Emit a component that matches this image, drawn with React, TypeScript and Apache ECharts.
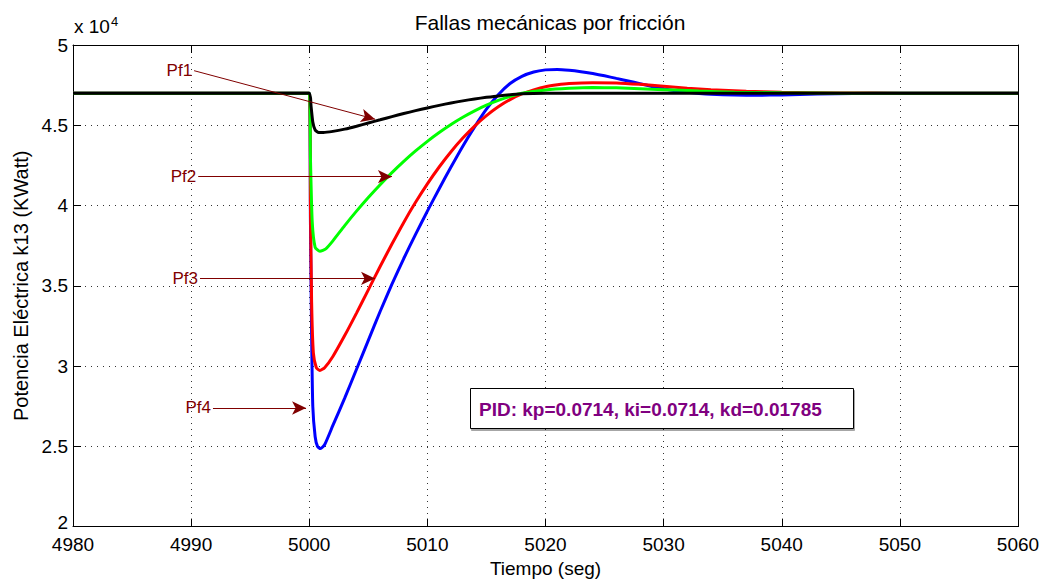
import React, { useEffect, useRef } from "react";
import * as echarts from "echarts";

// Time (s) and power (x 10^4 KWatt) for each fault case
const blueT = [4980, 5000, 5000.1, 5000.2, 5000.3, 5000.5, 5000.7, 5000.95, 5001.3,
  5002, 5003, 5004, 5005, 5006, 5007, 5008, 5009, 5010, 5011, 5012, 5013, 5014, 5015, 5016, 5017, 5018,
  5019, 5020, 5021, 5022, 5023, 5024, 5025, 5026, 5027, 5028, 5029, 5030, 5031, 5032, 5033, 5034,
  5036, 5038, 5040, 5043, 5046, 5050, 5060];
const blueV = [4.7, 4.7, 3.9, 3.2, 2.75, 2.56, 2.5, 2.486, 2.51,
  2.63, 2.8, 2.98, 3.16, 3.34, 3.51, 3.67, 3.82, 3.965, 4.105, 4.24, 4.37, 4.49, 4.6, 4.69, 4.76, 4.805,
  4.832, 4.845, 4.848, 4.843, 4.834, 4.822, 4.808, 4.792, 4.776, 4.759, 4.742, 4.727, 4.715, 4.705, 4.698, 4.693,
  4.688, 4.687, 4.689, 4.694, 4.698, 4.7, 4.7];

const redT = [4980, 5000, 5000.1, 5000.2, 5000.35, 5000.6, 5000.9, 5001.3,
  5002, 5003, 5004, 5005, 5006, 5007, 5008, 5009, 5010, 5011, 5012, 5013, 5014, 5015, 5016, 5017, 5018,
  5019, 5020, 5021, 5022,
  5024, 5026, 5028, 5030, 5032, 5034, 5037, 5040, 5045, 5050, 5060];
const redV = [4.7, 4.7, 4.0, 3.4, 3.08, 2.99, 2.973, 2.99,
  3.06, 3.19, 3.33, 3.475, 3.62, 3.76, 3.895, 4.02, 4.135, 4.24, 4.335, 4.42, 4.495, 4.56, 4.615, 4.66, 4.695,
  4.72, 4.74, 4.752, 4.76,
  4.765, 4.764, 4.755, 4.743, 4.731, 4.722, 4.712, 4.706, 4.701, 4.7, 4.7];

const greenT = [4980, 5000, 5000.1, 5000.25, 5000.5, 5000.9, 5001.4,
  5002, 5003, 5004, 5005, 5006, 5007, 5008, 5009, 5010, 5011, 5012, 5013, 5014, 5015, 5016, 5017, 5018,
  5020, 5022, 5024, 5026, 5028, 5030, 5033, 5036, 5040, 5045, 5060];
const greenV = [4.7, 4.7, 4.3, 3.9, 3.74, 3.715, 3.73,
  3.78, 3.875, 3.965, 4.05, 4.13, 4.205, 4.275, 4.34, 4.4, 4.455, 4.505, 4.55, 4.59, 4.625, 4.655, 4.68, 4.7,
  4.72, 4.73, 4.735, 4.733, 4.728, 4.722, 4.713, 4.706, 4.702, 4.7, 4.7];

const blackT = [4980, 5000, 5000.15, 5000.3, 5000.5, 5000.8, 5001.2,
  5002, 5003, 5004, 5005, 5006, 5007, 5008, 5009, 5010, 5011, 5012, 5013, 5014, 5015, 5016,
  5018, 5020, 5060];
const blackV = [4.7, 4.7, 4.62, 4.52, 4.47, 4.455, 4.455,
  4.462, 4.476, 4.494, 4.514, 4.534, 4.554, 4.573, 4.591, 4.608, 4.624, 4.639, 4.652, 4.664, 4.674, 4.683,
  4.696, 4.7, 4.7];

// Annotation arrows: label, start [t, y], end [t, y]
const arrowLabels = ["Pf1", "Pf2", "Pf3", "Pf4"];
const arrowStart = [[4990.25, 4.84], [4990.6, 4.18], [4990.75, 3.546], [4991.85, 2.739]];
const arrowEnd = [[5005.57, 4.538], [5007.0, 4.18], [5005.57, 3.546], [4999.73, 2.739]];

const xTicks = { min: 4980, max: 5060, interval: 10 };
const yTicks = { min: 2, max: 5, interval: 0.5 };

const titleText = "Fallas mecánicas por fricción";
const xName = "Tiempo (seg)";
const yName = "Potencia Eléctrica k13 (KWatt)";
const pidText = "PID: kp=0.0714, ki=0.0714, kd=0.01785";

const FONT = "'Liberation Sans', Arial, Helvetica, sans-serif";

function pairs(t: number[], v: number[]) {
  return t.map((x, i) => [x, v[i]]);
}

export default function App() {
  const ref = useRef<HTMLDivElement>(null);
  useEffect(() => {
    if (!ref.current) return;
    const chart = echarts.init(ref.current, null, { renderer: "svg" });
    const grid = { left: 73, right: 26, top: 45, bottom: 51 };
    const dotted = { show: true, lineStyle: { color: "#333", width: 1, type: [1, 5] as any } };
    const axisLine = { show: true, onZero: false, lineStyle: { color: "#000", width: 1 } };
    const tick = { show: true, inside: true, length: 8, lineStyle: { color: "#000" } };
    const lineSeries = (name: string, color: string, t: number[], v: number[]) => ({
      name,
      type: "line",
      data: pairs(t, v),
      showSymbol: false,
      symbol: "none",
      smooth: 0.2,
      lineStyle: { color, width: 3 },
      itemStyle: { color },
      xAxisIndex: 0,
      yAxisIndex: 0,
      z: 3,
    });
    const markData = arrowLabels.map((lab, i) => [
      { coord: arrowStart[i], name: lab },
      { coord: arrowEnd[i] },
    ]);
    chart.setOption({
      animation: false,
      textStyle: { fontFamily: FONT },
      title: {
        text: titleText,
        left: 545,
        textAlign: "center",
        top: 7,
        textStyle: { fontFamily: FONT, fontSize: 21, fontWeight: "normal", color: "#000" },
      },
      grid,
      xAxis: [
        {
          type: "value",
          ...xTicks,
          position: "bottom",
          axisLine,
          axisTick: tick,
          splitLine: dotted,
          axisLabel: {
            fontSize: 19, color: "#000", margin: 10, lineHeight: 16, fontFamily: FONT,
            formatter: (v: number) => String(v),
          },
          name: xName,
          nameLocation: "middle",
          nameGap: 25,
          nameTextStyle: { fontSize: 19, color: "#000", fontFamily: FONT },
        },
        {
          type: "value",
          ...xTicks,
          position: "top",
          axisLine,
          axisTick: tick,
          splitLine: { show: false },
          axisLabel: { show: false },
        },
      ],
      yAxis: [
        {
          type: "value",
          ...yTicks,
          position: "left",
          axisLine,
          axisTick: tick,
          splitLine: dotted,
          axisLabel: {
            fontSize: 19, color: "#000", margin: 5, lineHeight: 15, fontFamily: FONT,
            formatter: (v: number) => (v === yTicks.min ? "{lo|" + v + "}" : String(v)),
            rich: { lo: { fontSize: 19, lineHeight: 15, padding: [0, 0, 9, 0], fontFamily: FONT, color: "#000" } },
          },
          name: yName,
          nameLocation: "middle",
          nameGap: 42,
          nameTextStyle: { fontSize: 20, color: "#000", fontFamily: FONT },
        },
        {
          type: "value",
          ...yTicks,
          position: "right",
          axisLine,
          axisTick: tick,
          splitLine: { show: false },
          axisLabel: { show: false },
        },
      ],
      series: [
        lineSeries("Pf4", "#0000ff", blueT, blueV),
        lineSeries("Pf3", "#ff0000", redT, redV),
        lineSeries("Pf2", "#00ff00", greenT, greenV),
        {
          ...lineSeries("Pf1", "#000000", blackT, blackV),
          markLine: {
            silent: true,
            symbol: ["none", "arrow"],
            symbolSize: [10, 14],
            lineStyle: { color: "#800000", width: 1, type: "solid" },
            label: {
              show: true,
              position: "start",
              formatter: "{b}",
              color: "#800000",
              fontSize: 17,
              fontFamily: FONT,
              distance: 2,
            },
            data: markData,
          },
        },
      ],
      graphic: [
        {
          type: "text",
          left: 74,
          top: 15,
          style: {
            text: "x 10{s|4}",
            fontSize: 19,
            fontFamily: FONT,
            fill: "#000",
            rich: { s: { fontSize: 13, verticalAlign: "top", padding: [0, 0, 10, 1], fontFamily: FONT } },
          } as any,
        },
        {
          type: "rect",
          shape: { x: 470.5, y: 388.5, width: 383, height: 40 },
          style: { fill: "#fff", stroke: "#000", lineWidth: 1, shadowColor: "rgba(0,0,0,0.35)", shadowOffsetX: 1, shadowOffsetY: 2, shadowBlur: 1 },
          z: 10,
        },
        {
          type: "text",
          x: 479,
          y: 409,
          style: {
            text: pidText,
            fontSize: 19,
            fontWeight: "bold",
            fontFamily: FONT,
            fill: "#800080",
            verticalAlign: "middle",
          },
          z: 11,
        },
      ],
    });
    return () => chart.dispose();
  }, []);
  return (
    <div
      ref={ref}
      style={{ position: "fixed", left: 0, top: 0, width: 1044, height: 583, background: "#fff" }}
    />
  );
}
